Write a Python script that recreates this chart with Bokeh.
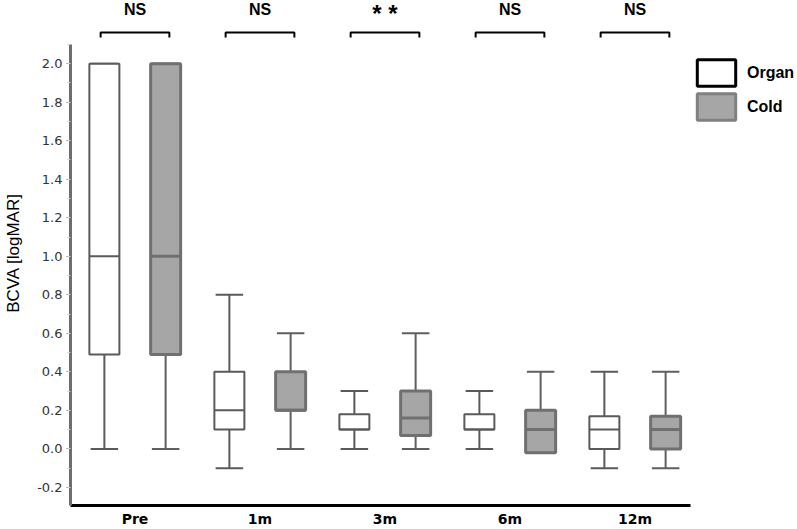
import numpy as np
from bokeh.plotting import figure
from bokeh.models import (Range1d, SingleIntervalTicker, FixedTicker, NumeralTickFormatter,
                          Legend, LegendItem, ColumnDataSource)
from bokeh.core.properties import value
from bokeh.embed import file_html
from bokeh.resources import INLINE

# ---------------- data ----------------
groups = ["Pre", "1m", "3m", "6m", "12m"]
series = ["Organ", "Cold"]

organ_min = [0.0, -0.1, 0.0, 0.0, -0.1]
organ_q1 = [0.49, 0.1, 0.1, 0.1, 0.0]
organ_med = [1.0, 0.2, 0.1, 0.1, 0.1]
organ_q3 = [2.0, 0.4, 0.18, 0.18, 0.17]
organ_max = [2.0, 0.8, 0.3, 0.3, 0.4]

cold_min = [0.0, 0.0, 0.0, -0.02, -0.1]
cold_q1 = [0.49, 0.2, 0.07, -0.02, 0.0]
cold_med = [1.0, 0.2, 0.16, 0.1, 0.1]
cold_q3 = [2.0, 0.4, 0.3, 0.2, 0.17]
cold_max = [2.0, 0.6, 0.6, 0.4, 0.4]

significance = ["NS", "NS", "* *", "NS", "NS"]

# ---------------- styling / layout constants ----------------
OFFSET = 0.245
BOX_W = 0.24
CAP_HALF = 0.11
BRACKET_HALF = 0.275
BRACKET_Y = 2.162
BRACKET_END = 2.136
SIG_Y_TEXT = 2.28
SIG_Y_STAR = 2.262

idx = np.arange(len(groups), dtype=float)
x_organ = idx - OFFSET
x_cold = idx + OFFSET

p = figure(width=796, height=529, output_backend="svg", toolbar_location=None,
           x_range=Range1d(-0.516, 5.292), y_range=Range1d(-0.294, 2.328),
           min_border_left=70, min_border_right=0, min_border_top=0, min_border_bottom=23)
p.outline_line_color = None
p.grid.visible = False
p.background_fill_color = "white"


def draw_series(xs, lo, q1, med, q3, hi, fill, line, box_lw, whisk_color):
    lo = np.array(lo); q1 = np.array(q1); med = np.array(med); q3 = np.array(q3); hi = np.array(hi)
    # whiskers
    p.segment(x0=xs, y0=q3, x1=xs, y1=hi, line_color=whisk_color, line_width=2)
    p.segment(x0=xs, y0=q1, x1=xs, y1=lo, line_color=whisk_color, line_width=2)
    # caps
    p.segment(x0=xs - CAP_HALF, y0=hi, x1=xs + CAP_HALF, y1=hi, line_color=whisk_color, line_width=2)
    p.segment(x0=xs - CAP_HALF, y0=lo, x1=xs + CAP_HALF, y1=lo, line_color=whisk_color, line_width=2)
    # boxes
    p.vbar(x=xs, width=BOX_W, top=q3, bottom=q1, fill_color=fill, line_color=line, line_width=box_lw)
    # medians
    p.segment(x0=xs - BOX_W / 2, y0=med, x1=xs + BOX_W / 2, y1=med, line_color=line, line_width=box_lw)


draw_series(x_organ, organ_min, organ_q1, organ_med, organ_q3, organ_max,
            "white", "#5a5a5a", 2, "#5a5a5a")
draw_series(x_cold, cold_min, cold_q1, cold_med, cold_q3, cold_max,
            "#a6a6a6", "#707070", 3, "#5f5f5f")

# significance brackets
bx = [[i - BRACKET_HALF, i - BRACKET_HALF, i + BRACKET_HALF, i + BRACKET_HALF] for i in idx]
by = [[BRACKET_END, BRACKET_Y, BRACKET_Y, BRACKET_END] for _ in idx]
p.multi_line(xs=bx, ys=by, line_color="black", line_width=2)
sig_y = [SIG_Y_TEXT if s == "NS" else SIG_Y_STAR for s in significance]
sig_size = ["16px" if s == "NS" else "24px" for s in significance]
sig_src = ColumnDataSource(data=dict(x=idx, y=sig_y, text=significance, size=sig_size))
p.text(x="x", y="y", text="text", source=sig_src, text_align="center", text_baseline="middle",
       text_font=value("Liberation Sans"), text_font_style="bold", text_font_size="size",
       text_color="black")

# legend (swatches styled like the reference legend; placeholder renderers draw nothing)
organ_leg = p.vbar(x=np.array([np.nan]), top=np.array([np.nan]), width=0.2,
                   fill_color="white", line_color="black", line_width=3)
cold_leg = p.vbar(x=np.array([np.nan]), top=np.array([np.nan]), width=0.2,
                  fill_color="#a6a6a6", line_color="#808080", line_width=3)
legend = Legend(items=[LegendItem(label=series[0], renderers=[organ_leg]),
                       LegendItem(label=series[1], renderers=[cold_leg])],
                location=(622, 382), orientation="vertical",
                glyph_width=48, glyph_height=33, spacing=1, padding=0, margin=0,
                label_standoff=7, border_line_color=None, background_fill_alpha=0,
                label_text_font="Liberation Sans", label_text_font_style="bold",
                label_text_font_size="16px", label_text_color="black")
p.add_layout(legend)

# y axis
ya = p.yaxis[0]
ya.ticker = SingleIntervalTicker(interval=0.2, num_minor_ticks=2)
ya.formatter = NumeralTickFormatter(format="0.0")
ya.bounds = (-0.294, 2.1)
ya.axis_line_color = "#6e6e6e"
ya.axis_line_width = 3
ya.major_tick_line_color = "#808080"
ya.major_tick_out = 4
ya.major_tick_in = 0
ya.minor_tick_line_color = "#d0d0d0"
ya.minor_tick_out = 3
ya.minor_tick_in = 0
ya.major_label_standoff = 4
ya.major_label_text_font = "DejaVu Sans"
ya.major_label_text_font_size = "13px"
ya.major_label_text_color = "#333333"
ya.axis_label = "BCVA [logMAR]"
ya.axis_label_text_font = "Liberation Sans"
ya.axis_label_text_font_size = "17px"
ya.axis_label_text_font_style = "normal"
ya.axis_label_text_color = "black"
ya.axis_label_standoff = 11

# x axis
xa = p.xaxis[0]
xa.ticker = FixedTicker(ticks=list(idx))
xa.major_label_overrides = {float(i): g for i, g in zip(idx, groups)}
xa.bounds = (-0.516, 4.44)
xa.axis_line_color = "black"
xa.axis_line_width = 3
xa.major_tick_line_color = None
xa.minor_tick_line_color = None
xa.major_tick_out = 0
xa.minor_tick_out = 0
xa.major_tick_in = 0
xa.minor_tick_in = 0
xa.major_label_standoff = 5
xa.major_label_text_font = "DejaVu Sans"
xa.major_label_text_font_style = "bold"
xa.major_label_text_font_size = "14px"
xa.major_label_text_color = "black"

open("out.html", "w").write(file_html(p, INLINE))
